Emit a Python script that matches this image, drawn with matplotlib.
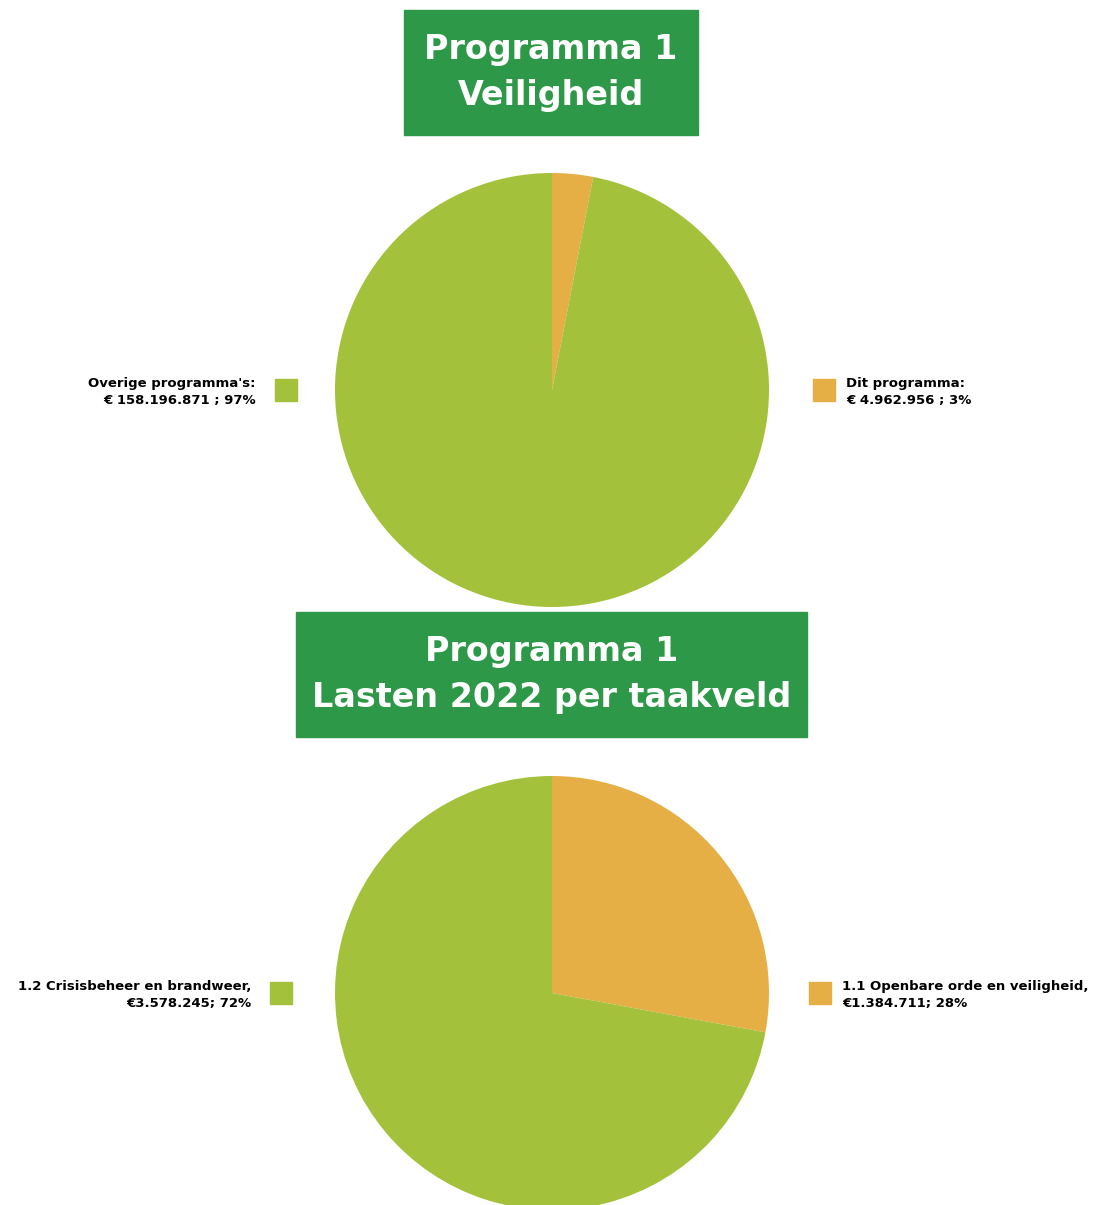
import matplotlib.pyplot as plt
from matplotlib.patches import Rectangle

# data
top_labels = ["Dit programma:\n€ 4.962.956 ; 3%", "Overige programma's:\n€ 158.196.871 ; 97%"]
top_values = [4962956, 158196871]
bottom_labels = ["1.1 Openbare orde en veiligheid,\n€1.384.711; 28%", "1.2 Crisisbeheer en brandweer,\n€3.578.245; 72%"]
bottom_values = [1384711, 3578245]
colors = ["#e5af45", "#a3c13a"]
box_green = "#2d9847"

W, H = 1093, 1205
fig = plt.figure(figsize=(W / 100, H / 100), dpi=100)
ax = fig.add_axes([0, 0, 1, 1])

def Y(y):  # pixel row -> data y
    return H - y

# pies
ax.pie(top_values, colors=colors, startangle=90, counterclock=False,
       radius=217, center=(552, Y(390)), wedgeprops=dict(linewidth=0))
ax.pie(bottom_values, colors=colors, startangle=90, counterclock=False,
       radius=217, center=(552, Y(993)), wedgeprops=dict(linewidth=0))

# title boxes
def title_box(x0, x1, y0, y1, lines):
    ax.add_patch(Rectangle((x0, Y(y1)), x1 - x0, y1 - y0, color=box_green, zorder=3))
    ax.text((x0 + x1) / 2, Y((y0 + y1) / 2), lines, ha="center", va="center",
            color="white", fontsize=24, fontweight="bold", linespacing=1.5, zorder=4)

title_box(404, 698, 10, 135, "Programma 1\nVeiligheid")
title_box(296, 807, 612, 737, "Programma 1\nLasten 2022 per taakveld")

# legend squares and labels
def legend_item(sq_x, sq_y, color, label, side):
    ax.add_patch(Rectangle((sq_x, Y(sq_y + 22)), 22, 22, color=color, zorder=3))
    if side == "left":
        ax.text(sq_x - 19, Y(sq_y + 13), label, ha="right", va="center",
                fontsize=9.5, fontweight="bold", linespacing=1.45)
    else:
        ax.text(sq_x + 33, Y(sq_y + 13), label, ha="left", va="center",
                fontsize=9.5, fontweight="bold", linespacing=1.45)

legend_item(275, 379, colors[1], top_labels[1], "left")
legend_item(813, 379, colors[0], top_labels[0], "right")
legend_item(270, 982, colors[1], bottom_labels[1], "left")
legend_item(809, 982, colors[0], bottom_labels[0], "right")

ax.set_xlim(0, W)
ax.set_ylim(0, H)
ax.set_aspect("equal")
ax.axis("off")

fig.savefig("out.png", dpi=100, facecolor="white")
